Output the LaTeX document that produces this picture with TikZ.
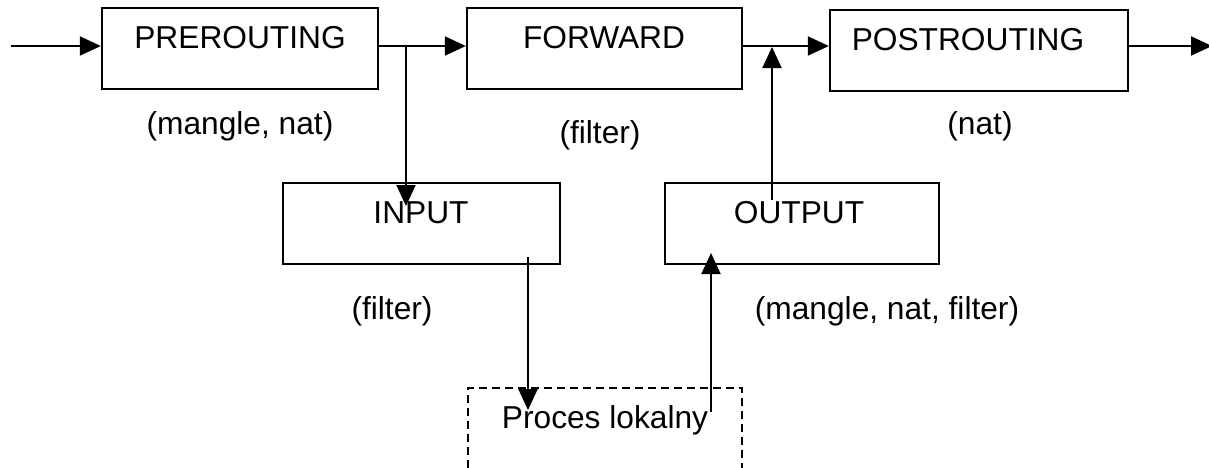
\documentclass[tikz,border=0pt]{standalone}
\usepackage{fontspec}
\setmainfont{Liberation Sans}
\usetikzlibrary{arrows.meta}
\begin{document}
\begin{tikzpicture}[x=1pt,y=-1pt,
  chain/.style={draw, line width=2.3pt, rectangle, inner sep=0pt, minimum height=81pt},
  localbox/.style={draw, line width=2.2pt, rectangle, inner sep=0pt, dash pattern=on 8pt off 5pt},
  txt/.style={inner sep=0pt, anchor=base, font=\fontsize{31.7}{38}\selectfont},
  flow/.style={line width=2pt, -{Triangle[length=21pt,width=19pt]}},
  wire/.style={line width=2pt}]
\useasboundingbox (0,0) rectangle (1209,467);
\clip (0,0) rectangle (1209,467);

% netfilter chains
\node[chain, minimum width=276pt] (pre)  at (240,48.5)   {};
\node[chain, minimum width=275pt] (fwd)  at (604.5,48.5) {};
\node[chain, minimum width=298pt] (post) at (979,50.5)   {};
\node[chain, minimum width=277pt] (inp)  at (421.5,223.5) {};
\node[chain, minimum width=274pt] (outp) at (802,223.5)  {};
% local process (open at the bottom)
\node[localbox, minimum width=274pt, minimum height=160pt] (proc) at (605,468) {};

% chain names
\node[txt] (preT)  at (240,48)  {PREROUTING};
\node[txt] (fwdT)  at (604,48)  {FORWARD};
\node[txt] (postT) at (968,50)  {POSTROUTING};
\node[txt] (inpT)  at (421,223) {INPUT};
\node[txt] (outpT) at (799,223) {OUTPUT};
\node[txt] (procT) at (605,428) {Proces lokalny};

% tables used by each chain
\node[txt] (preL)  at (240,134) {(mangle, nat)};
\node[txt] (fwdL)  at (600,143) {(filter)};
\node[txt] (postL) at (980,134) {(nat)};
\node[txt] (inpL)  at (392,319) {(filter)};
\node[txt] (outpL) at (887,319) {(mangle, nat, filter)};

% connection points
\coordinate (src)   at (11,46);
\coordinate (dst)   at (1212,46);
\coordinate (j1)    at (406,46);
\coordinate (j2)    at (772,47);
\coordinate (inTip) at (406,206);
\coordinate (oTail) at (772,200);
\coordinate (iTail) at (528,257);
\coordinate (pTip)  at (528,410);
\coordinate (pTail) at (711,412);
\coordinate (oTip)  at (711,253);

% packet flow
\draw[flow] (src) -- (src -| pre.west);
\draw[flow] (pre.east |- j1) -- (fwd.west |- j1);
\draw[flow] (j1) -- (inTip);
\draw[flow] (fwd.east |- src) -- (post.west |- src);
\draw[flow] (oTail) -- (j2);
\draw[flow] (post.east |- src) -- (dst);
\draw[flow] (iTail) -- (pTip);
\draw[flow] (pTail) -- (oTip);
\end{tikzpicture}
\end{document}
